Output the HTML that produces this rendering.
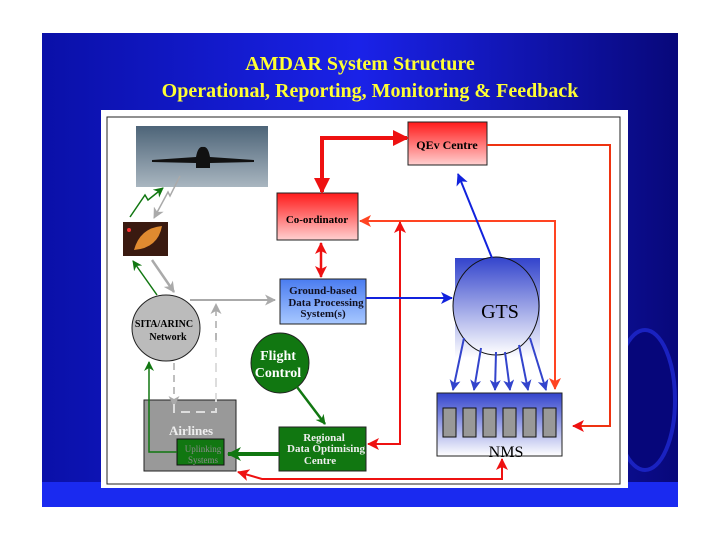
<!DOCTYPE html>
<html><head><meta charset="utf-8"><style>
html,body{margin:0;padding:0;background:#fff;width:720px;height:540px;overflow:hidden}
svg{display:block}
text{font-family:"Liberation Serif",serif;font-weight:bold}
</style></head><body>
<svg width="720" height="540" viewBox="0 0 720 540" xmlns="http://www.w3.org/2000/svg">
<defs>
<linearGradient id="bg" x1="0" y1="0" x2="1" y2="0">
<stop offset="0" stop-color="#0a10a8"/><stop offset="0.5" stop-color="#1a22e8"/><stop offset="1" stop-color="#08087a"/></linearGradient>
<linearGradient id="red" x1="0" y1="0" x2="0" y2="1"><stop offset="0" stop-color="#ff1a1a"/><stop offset="1" stop-color="#ffd0d0"/></linearGradient>
<linearGradient id="blu" x1="0" y1="0" x2="0" y2="1"><stop offset="0" stop-color="#3344cc"/><stop offset="1" stop-color="#ffffff"/></linearGradient>
<linearGradient id="gb" x1="0" y1="0" x2="0" y2="1"><stop offset="0" stop-color="#4a7cf0"/><stop offset="1" stop-color="#a8c8ff"/></linearGradient>
<linearGradient id="sky" x1="0" y1="0" x2="0" y2="1"><stop offset="0" stop-color="#4d6478"/><stop offset="1" stop-color="#a9b6c0"/></linearGradient>
<marker id="mRL" markerWidth="16" markerHeight="16" refX="14" refY="8" orient="auto-start-reverse" markerUnits="userSpaceOnUse"><path d="M0,0 L16,8 L0,16 z" fill="#ee1111"/></marker>
<marker id="mR" markerWidth="12" markerHeight="12" refX="11" refY="6" orient="auto-start-reverse" markerUnits="userSpaceOnUse"><path d="M0,0 L12,6 L0,12 L3,6 z" fill="#ee1111"/></marker>
<marker id="mO" markerWidth="12" markerHeight="12" refX="11" refY="6" orient="auto" markerUnits="userSpaceOnUse"><path d="M0,0 L12,6 L0,12 L3,6 z" fill="#ff4422"/></marker>
<marker id="mB" markerWidth="12" markerHeight="12" refX="11" refY="6" orient="auto" markerUnits="userSpaceOnUse"><path d="M0,0 L12,6 L0,12 L3,6 z" fill="#1122dd"/></marker>
<marker id="mB2" markerWidth="11" markerHeight="11" refX="10" refY="5.5" orient="auto" markerUnits="userSpaceOnUse"><path d="M0,0 L11,5.5 L0,11 L3,5.5 z" fill="#3344cc"/></marker>
<marker id="mG" markerWidth="10" markerHeight="10" refX="9" refY="5" orient="auto" markerUnits="userSpaceOnUse"><path d="M0,0 L10,5 L0,10 L3,5 z" fill="#117711"/></marker>
<marker id="mGL" markerWidth="14" markerHeight="14" refX="13" refY="7" orient="auto" markerUnits="userSpaceOnUse"><path d="M0,0 L14,7 L0,14 L4,7 z" fill="#117711"/></marker>
<marker id="mGr" markerWidth="11" markerHeight="11" refX="10" refY="5.5" orient="auto" markerUnits="userSpaceOnUse"><path d="M0,0 L11,5.5 L0,11 L3,5.5 z" fill="#aaaaaa"/></marker>
</defs>
<rect x="42" y="33" width="636" height="474" fill="url(#bg)"/>
<rect x="42" y="482" width="636" height="25" fill="#1a2af0"/>
<ellipse cx="645" cy="400" rx="30" ry="70" fill="#06067a" stroke="#1a22c0" stroke-width="4"/>
<text x="360" y="70" fill="#ffff33" font-size="20" text-anchor="middle">AMDAR System Structure</text>
<text x="370" y="97" fill="#ffff33" font-size="20" text-anchor="middle">Operational, Reporting, Monitoring &amp; Feedback</text>
<rect x="101" y="110" width="527" height="378" fill="#fff"/>
<rect x="107" y="117" width="513" height="367" fill="none" stroke="#222" stroke-width="1"/>
<!-- plane -->
<rect x="136" y="126" width="132" height="61" fill="url(#sky)"/>
<path d="M152,160 L196,157 Q198,146 203,147 Q208,146 210,157 L254,160 L254,162 L210,163 L210,168 L196,168 L196,163 L152,162 z" fill="#111"/>
<!-- dish -->
<rect x="123" y="222" width="45" height="34" fill="#3a1a10"/>
<path d="M134,250 Q140,228 162,226 Q158,248 134,250z" fill="#e08a30"/>
<circle cx="129" cy="230" r="2" fill="#f33"/>
<!-- plane links -->
<polyline points="130,217 145,195 148,200 163,188" fill="none" stroke="#117711" stroke-width="1.5" marker-end="url(#mG)"/>
<polyline points="180,176 170,196 168,192 154,218" fill="none" stroke="#aaa" stroke-width="1.5" marker-end="url(#mGr)"/>
<!-- boxes -->
<rect x="408" y="122" width="79" height="43" fill="url(#red)" stroke="#222"/>
<text x="447" y="149" font-size="12" text-anchor="middle">QEv Centre</text>
<rect x="277" y="193" width="81" height="47" fill="url(#red)" stroke="#222"/>
<text x="317" y="223" font-size="11" text-anchor="middle">Co-ordinator</text>
<rect x="280" y="279" width="86" height="45" fill="url(#gb)" stroke="#222"/>
<text x="323" y="294" font-size="11" text-anchor="middle" fill="#112">Ground-based</text>
<text x="326" y="306" font-size="11" text-anchor="middle" fill="#112">Data Processing</text>
<text x="323" y="317" font-size="11" text-anchor="middle" fill="#112">System(s)</text>
<rect x="455" y="258" width="85" height="100" fill="url(#blu)"/>
<ellipse cx="496" cy="306" rx="43" ry="49" fill="url(#blu)" stroke="#111"/>
<text x="500" y="318" font-size="20" text-anchor="middle" style="font-weight:normal">GTS</text>
<rect x="437" y="393" width="125" height="63" fill="url(#blu)" stroke="#222"/>
<g fill="#999" stroke="#111">
<rect x="443" y="408" width="13" height="29"/><rect x="463" y="408" width="13" height="29"/><rect x="483" y="408" width="13" height="29"/><rect x="503" y="408" width="13" height="29"/><rect x="523" y="408" width="13" height="29"/><rect x="543" y="408" width="13" height="29"/></g>
<text x="506" y="457" font-size="16" text-anchor="middle" style="font-weight:normal">NMS</text>
<ellipse cx="166" cy="328" rx="34" ry="33" fill="#bbb" stroke="#222"/>
<text x="164" y="327" font-size="10" text-anchor="middle">SITA/ARINC</text>
<text x="168" y="340" font-size="10" text-anchor="middle">Network</text>
<ellipse cx="280" cy="363" rx="29" ry="30" fill="#117711" stroke="#222"/>
<text x="278" y="360" font-size="14" fill="#fff" text-anchor="middle">Flight</text>
<text x="278" y="377" font-size="14" fill="#fff" text-anchor="middle">Control</text>
<rect x="144" y="400" width="92" height="71" fill="#999" stroke="#222"/>
<text x="191" y="435" font-size="13" fill="#eee" text-anchor="middle">Airlines</text>
<rect x="177" y="439" width="47" height="26" fill="#117711" stroke="#111"/>
<text x="203" y="452" font-size="9" fill="#8a8a8a" text-anchor="middle" style="font-weight:normal">Uplinking</text>
<text x="203" y="463" font-size="9" fill="#8a8a8a" text-anchor="middle" style="font-weight:normal">Systems</text>
<rect x="279" y="427" width="87" height="44" fill="#117711" stroke="#222"/>
<text x="324" y="441" font-size="11" fill="#eee" text-anchor="middle">Regional</text>
<text x="326" y="452" font-size="11" fill="#eee" text-anchor="middle">Data Optimising</text>
<text x="320" y="464" font-size="11" fill="#eee" text-anchor="middle">Centre</text>
<!-- arrows -->
<polyline points="322,192 322,138 407,138" fill="none" stroke="#ee1111" stroke-width="4" marker-end="url(#mRL)" marker-start="url(#mRL)"/>
<line x1="321" y1="243" x2="321" y2="277" stroke="#ee1111" stroke-width="2.5" marker-end="url(#mR)" marker-start="url(#mR)"/>
<polyline points="487,145 610,145 610,426 573,426" fill="none" stroke="#ee3311" stroke-width="2" marker-end="url(#mR)"/>
<polyline points="555,388 555,221 360,221" fill="none" stroke="#ff4422" stroke-width="2" marker-end="url(#mO)"/>
<line x1="555" y1="360" x2="555" y2="389" stroke="#ff4422" stroke-width="2" marker-end="url(#mO)"/>
<polyline points="400,222 400,444 368,444" fill="none" stroke="#ee1111" stroke-width="2" marker-end="url(#mR)" marker-start="url(#mR)"/>
<polyline points="238,472 262,479 502,479 502,459" fill="none" stroke="#ee1111" stroke-width="2" marker-end="url(#mR)" marker-start="url(#mR)"/>
<line x1="366" y1="298" x2="452" y2="298" stroke="#1122dd" stroke-width="2" marker-end="url(#mB)"/>
<line x1="492" y1="258" x2="458" y2="174" stroke="#1122dd" stroke-width="2" marker-end="url(#mB)"/>
<g stroke="#3344cc" stroke-width="2" fill="none" marker-end="url(#mB2)">
<line x1="464" y1="338" x2="453" y2="390"/><line x1="481" y1="348" x2="474" y2="390"/><line x1="496" y1="352" x2="495" y2="390"/><line x1="505" y1="352" x2="510" y2="390"/><line x1="519" y1="345" x2="528" y2="390"/><line x1="530" y1="338" x2="546" y2="390"/></g>
<line x1="297" y1="387" x2="325" y2="424" stroke="#117711" stroke-width="2.5" marker-end="url(#mG)"/>
<line x1="279" y1="454" x2="228" y2="454" stroke="#117711" stroke-width="4" marker-end="url(#mGL)"/>
<polyline points="177,452 149,452 149,362" fill="none" stroke="#117711" stroke-width="1.5" marker-end="url(#mG)"/>
<line x1="157" y1="295" x2="133" y2="261" stroke="#117711" stroke-width="1.5" marker-end="url(#mG)"/>
<line x1="152" y1="260" x2="174" y2="292" stroke="#aaa" stroke-width="2.5" marker-end="url(#mGr)"/>
<line x1="190" y1="300" x2="275" y2="300" stroke="#aaa" stroke-width="2" marker-end="url(#mGr)"/>
<polyline points="174,363 174,406" fill="none" stroke="#aaa" stroke-width="1.5" stroke-dasharray="7,5" marker-end="url(#mGr)"/>
<polyline points="174,404 174,412 216,412 216,330" fill="none" stroke="#ddd" stroke-width="2" stroke-dasharray="9,6"/>
<polyline points="216,340 216,304" fill="none" stroke="#aaa" stroke-width="1.5" stroke-dasharray="7,5" marker-end="url(#mGr)"/>
</svg>
</body></html>
